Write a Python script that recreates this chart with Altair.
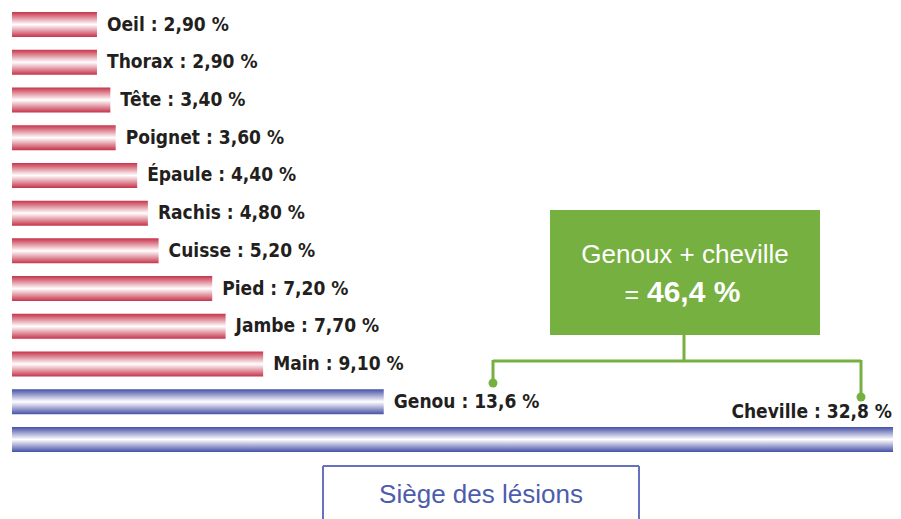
import altair as alt
import pandas as pd

categories = ["Oeil", "Thorax", "Tête", "Poignet", "Épaule", "Rachis", "Cuisse",
              "Pied", "Jambe", "Main", "Genou", "Cheville"]
values = [2.9, 2.9, 3.4, 3.6, 4.4, 4.8, 5.2, 7.2, 7.7, 9.1, 13.6, 32.8]
value_labels = ["2,90 %", "2,90 %", "3,40 %", "3,60 %", "4,40 %", "4,80 %", "5,20 %",
                "7,20 %", "7,70 %", "9,10 %", "13,6 %", "32,8 %"]
groups = ["autre"] * 10 + ["genou_cheville"] * 2

summary_title = "Genoux + cheville"
summary_eq = "="
summary_value = "46,4 %"
footer_text = "Siège des lésions"

df = pd.DataFrame({
    "cat": categories,
    "val": values,
    "label": [f"{c} : {v}" for c, v in zip(categories, value_labels)],
    "group": groups,
})

LABEL_FONT = "Liberation Sans Narrow, DejaVu Sans Condensed, Arial Narrow, sans-serif"
SANS = "Liberation Sans, Arial, Helvetica, sans-serif"
GREEN = "#76b041"
TXT = "#231f20"

W, H = 881, 511
X_MIN, X_MAX = -0.27, 32.6   # axis start sits slightly left of the bars' zero

red_grad = alt.Gradient(gradient="linear", x1=0, x2=0, y1=0, y2=1, stops=[
    alt.GradientStop(color="#c6334a", offset=0),
    alt.GradientStop(color="#ffffff", offset=0.5),
    alt.GradientStop(color="#c6334a", offset=1),
])
blue_grad = alt.Gradient(gradient="linear", x1=0, x2=0, y1=0, y2=1, stops=[
    alt.GradientStop(color="#4650a6", offset=0),
    alt.GradientStop(color="#ffffff", offset=0.5),
    alt.GradientStop(color="#4650a6", offset=1),
])

x_enc = alt.X("val:Q", scale=alt.Scale(domain=[X_MIN, X_MAX], nice=False, zero=False),
              axis=None)
y_enc = alt.Y("cat:N", sort=categories,
              scale=alt.Scale(range=[0, 448], paddingInner=0.337, paddingOuter=0.106),
              axis=None)

base = alt.Chart(df)

red_bars = base.transform_filter(alt.datum.group == "autre").mark_bar(
    color=red_grad, cornerRadius=0, clip=True).encode(
    x=x_enc, x2=alt.datum(X_MIN), y=y_enc)
blue_bars = base.transform_filter(alt.datum.group == "genou_cheville").mark_bar(
    color=blue_grad, cornerRadius=0, clip=True).encode(
    x=x_enc, x2=alt.datum(X_MIN), y=y_enc)

labels = base.transform_filter(alt.datum.cat != "Cheville").mark_text(
    align="left", baseline="middle", dx=10, dy=0, font=LABEL_FONT, fontWeight="bold",
    fontSize=19, color=TXT).encode(x=x_enc, y=y_enc, text="label:N")
label_chev = base.transform_filter(alt.datum.cat == "Cheville").mark_text(
    align="right", baseline="middle", dx=-1, dy=-27, font=LABEL_FONT, fontWeight="bold",
    fontSize=19, color=TXT).encode(x=alt.value(W), y=y_enc, text="label:N")

one = alt.Data(values=[{"k": 1}])

green_box = alt.Chart(one).mark_rect(color=GREEN).encode(
    x=alt.value(538), x2=alt.value(808), y=alt.value(202), y2=alt.value(327))
green_t1 = alt.Chart(one).mark_text(
    align="center", baseline="middle", font=SANS, fontSize=26,
    color="white").encode(
    x=alt.value(673), y=alt.value(247), text=alt.value(summary_title))
green_t2 = alt.Chart(one).mark_text(
    align="right", baseline="middle", font=SANS, fontSize=25, color="white").encode(
    x=alt.value(627), y=alt.value(287), text=alt.value(summary_eq))
green_t3 = alt.Chart(one).mark_text(
    align="left", baseline="middle", font=SANS, fontSize=30, fontWeight="bold",
    color="white").encode(
    x=alt.value(635), y=alt.value(285), text=alt.value(summary_value))

conn_v = alt.Chart(one).mark_rule(color=GREEN, strokeWidth=3).encode(
    x=alt.value(672), y=alt.value(327), y2=alt.value(353))
conn_h = alt.Chart(one).mark_rule(color=GREEN, strokeWidth=3).encode(
    x=alt.value(481), x2=alt.value(849), y=alt.value(353))
conn_l = alt.Chart(one).mark_rule(color=GREEN, strokeWidth=3).encode(
    x=alt.value(481), y=alt.value(352), y2=alt.value(375))
conn_r = alt.Chart(one).mark_rule(color=GREEN, strokeWidth=3).encode(
    x=alt.value(849), y=alt.value(352), y2=alt.value(389))
dot_l = alt.Chart(one).mark_circle(color=GREEN, size=80, opacity=1).encode(
    x=alt.value(481), y=alt.value(375))
dot_r = alt.Chart(one).mark_circle(color=GREEN, size=80, opacity=1).encode(
    x=alt.value(849), y=alt.value(389))

FOOT = "#6672c0"
foot_top = alt.Chart(one).mark_rule(color=FOOT, strokeWidth=2).encode(
    x=alt.value(311), x2=alt.value(627), y=alt.value(458))
foot_l = alt.Chart(one).mark_rule(color=FOOT, strokeWidth=2).encode(
    x=alt.value(311), y=alt.value(458), y2=alt.value(H))
foot_r = alt.Chart(one).mark_rule(color=FOOT, strokeWidth=2).encode(
    x=alt.value(627), y=alt.value(458), y2=alt.value(H))
foot_t = alt.Chart(one).mark_text(
    align="center", baseline="middle", font=SANS, fontSize=26,
    color="#4d5cac").encode(
    x=alt.value(469), y=alt.value(487), text=alt.value(footer_text))

chart = alt.layer(
    red_bars, blue_bars, labels, label_chev,
    green_box, green_t1, green_t2, green_t3,
    conn_v, conn_h, conn_l, conn_r, dot_l, dot_r,
    foot_top, foot_l, foot_r, foot_t,
).properties(
    width=W, height=H,
    padding={"left": 4, "top": 0, "right": 0, "bottom": 0},
    background="white",
).configure_view(stroke=None)

chart.save("out.html", embed_options={"renderer": "svg", "actions": False})
